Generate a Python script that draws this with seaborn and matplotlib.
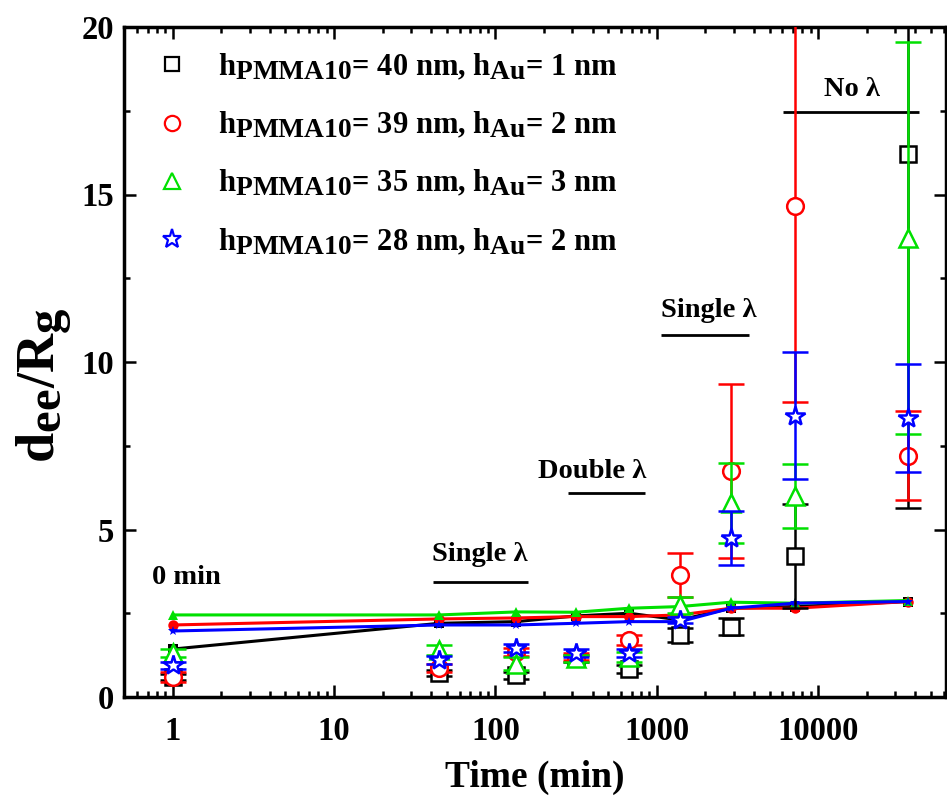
#!/usr/bin/python3
# -*- coding: utf-8 -*-

# --------------------------------------------------------------------
# d_ee/R_g versus annealing time for PMMA10 / Au films
# --------------------------------------------------------------------
import numpy as np
import pandas as pd

import seaborn as sns

import matplotlib
import matplotlib.pyplot as plt
from matplotlib.lines import Line2D
from matplotlib.ticker import LogLocator, MultipleLocator, NullFormatter, FixedLocator, FixedFormatter
import matplotlib._mathtext as mathtext_core

# Origin style subscripts are nearly full size
mathtext_core.SHRINK_FACTOR = 0.9

import warnings
warnings.filterwarnings("ignore")

sns.set_theme(style="ticks")
plt.rcParams["font.family"] = ["Liberation Serif", "DejaVu Serif"]
plt.rcParams["font.weight"] = "bold"
plt.rcParams["mathtext.fontset"] = "custom"
plt.rcParams["mathtext.rm"] = "Liberation Serif:bold"
plt.rcParams["mathtext.bf"] = "Liberation Serif:bold"
plt.rcParams["mathtext.it"] = "Liberation Serif:bold"
plt.rcParams["mathtext.default"] = "bf"
for key in ["text.color", "axes.labelcolor", "xtick.color", "ytick.color", "axes.edgecolor"]:
    plt.rcParams[key] = "black"


# --------------------------------------------------------------------
# data
# --------------------------------------------------------------------
time_min = [1, 45, 135, 315, 675, 1395, 2880, 7200, 36000]

sample_labels = [
    r"$h_{PMMA10}$= 40 nm, $h_{Au}$= 1 nm",
    r"$h_{PMMA10}$= 39 nm, $h_{Au}$= 2 nm",
    r"$h_{PMMA10}$= 35 nm, $h_{Au}$= 3 nm",
    r"$h_{PMMA10}$= 28 nm, $h_{Au}$= 2 nm",
]

# open symbols with error bars
dee_40_1 = [0.6, 0.72, 0.65, 1.15, 0.85, 1.85, 2.1, 4.2, 16.2]
err_40_1 = [0.1, 0.1, 0.1, 0.1, 0.12, 0.2, 0.25, 1.55, 10.55]
dee_39_2 = [0.6, 0.87, 1.35, 1.2, 1.7, 3.65, 6.75, 14.65, 7.2]
err_39_2 = [0.15, 0.12, 0.12, 0.1, 0.15, 0.65, 2.6, 5.85, 1.33]
dee_35_3 = [1.3, 1.4, 1.0, 1.15, 1.2, 2.75, 5.8, 6.0, 13.7]
err_35_3 = [0.12, 0.15, 0.2, 0.1, 0.15, 0.25, 1.2, 0.95, 5.85]
dee_28_2 = [0.95, 1.1, 1.45, 1.3, 1.3, 2.3, 4.75, 8.4, 8.33]
err_28_2 = [0.1, 0.12, 0.12, 0.12, 0.12, 0.1, 0.8, 1.9, 1.6]

# solid lines with small filled symbols
ref_40_1 = [1.43, 2.2, 2.25, 2.42, 2.5, 2.3, 2.65, 2.7, 2.85]
ref_39_2 = [2.15, 2.33, 2.36, 2.4, 2.4, 2.45, 2.65, 2.65, 2.85]
ref_35_3 = [2.45, 2.45, 2.54, 2.53, 2.65, 2.7, 2.83, 2.8, 2.88]
ref_28_2 = [1.97, 2.15, 2.15, 2.2, 2.25, 2.25, 2.65, 2.8, 2.85]

x_tick_values = [1, 10, 100, 1000, 10000]
x_tick_labels = ["1", "10", "100", "1000", "10000"]
y_tick_values = [0, 5, 10, 15, 20]

colors = ["#000000", "#ff0000", "#00e000", "#0000ff"]
markers = ["s", "o", "^", "*"]
marker_sizes = [11, 12, 13, 15]


def build_frames():
    """把各组数据整理成 DataFrame"""
    dee = [dee_40_1, dee_39_2, dee_35_3, dee_28_2]
    err = [err_40_1, err_39_2, err_35_3, err_28_2]
    ref = [ref_40_1, ref_39_2, ref_35_3, ref_28_2]
    rows, line_rows = [], []
    for k, label in enumerate(sample_labels):
        for t, v, e, r in zip(time_min, dee[k], err[k], ref[k]):
            rows.append({"time": t, "ratio": v, "err": e, "sample": label})
            line_rows.append({"time": t, "ratio": r, "sample": label})
    return pd.DataFrame(rows), pd.DataFrame(line_rows)


def plot_dee_vs_time(dee_df, line_df, file_name):
    fig = plt.figure(figsize=(9.47, 7.96), dpi=100)
    ax = fig.add_axes([124 / 947, 99 / 796, 822 / 947, 670 / 796])

    # solid lines with small filled markers
    sns.lineplot(data=line_df, x="time", y="ratio", hue="sample", style="sample",
                 hue_order=sample_labels, style_order=sample_labels,
                 palette=colors, markers=markers, dashes=False, markersize=7.5,
                 markeredgewidth=0, linewidth=2.2, legend=False, ax=ax)

    # open markers with error bars
    for k, label in enumerate(sample_labels):
        sub = dee_df[dee_df["sample"] == label]
        ax.errorbar(sub["time"], sub["ratio"], yerr=sub["err"], fmt=markers[k],
                    color=colors[k], mfc="white", mec=colors[k], ms=marker_sizes[k],
                    mew=1.8, elinewidth=1.8, capsize=9.5, capthick=1.8, zorder=3 + k)

    ax.set_xscale("log")
    ax.set_xlim(0.5, 62000)
    ax.set_ylim(0, 20)

    ax.xaxis.set_major_locator(FixedLocator(x_tick_values))
    ax.xaxis.set_major_formatter(FixedFormatter(x_tick_labels))
    ax.xaxis.set_minor_locator(LogLocator(base=10, subs=np.arange(2, 10)))
    ax.xaxis.set_minor_formatter(NullFormatter())
    ax.yaxis.set_major_locator(FixedLocator(y_tick_values))
    ax.yaxis.set_minor_locator(MultipleLocator(2.5))

    ax.tick_params(which="both", direction="in", top=True, right=True, width=1.8)
    ax.tick_params(which="major", length=8.5)
    ax.tick_params(which="minor", length=4.5)
    ax.tick_params(axis="x", which="major", pad=14, labelsize=23.5)
    ax.tick_params(axis="y", which="major", pad=7, labelsize=23.5)
    for side in ax.spines.values():
        side.set_linewidth(2.5)
        side.set_color("black")

    ax.set_xlabel("Time (min)", fontsize=27, fontweight="bold", labelpad=9)
    ax.set_ylabel(r"$d_{ee}/R_g$", fontsize=39)
    ax.yaxis.set_label_coords(-0.062, 0.465)

    # regime annotations
    ax.text(0.75, 3.58, "0 min", fontsize=20.5, ha="left", va="center")
    ax.text(80, 4.24, "Single λ", fontsize=20.5, ha="center", va="center")
    ax.hlines(3.43, 41, 160, color="black", lw=2)
    ax.text(400, 6.72, "Double λ", fontsize=20.5, ha="center", va="center")
    ax.hlines(6.09, 280, 840, color="black", lw=2)
    ax.text(2090, 11.55, "Single λ", fontsize=20.5, ha="center", va="center")
    ax.hlines(10.8, 1060, 3720, color="black", lw=2)
    ax.text(16300, 18.12, "No λ", fontsize=20.5, ha="center", va="center")
    ax.hlines(17.46, 6050, 41900, color="black", lw=2)

    handles = [Line2D([], [], ls="none", marker=markers[k], ms=marker_sizes[k] - 1,
                      mfc="none", mec=colors[k], mew=1.6)
               for k in range(len(sample_labels))]
    ax.legend(handles, sample_labels, loc="upper left", frameon=False,
              bbox_to_anchor=((158 - 124) / 822, 1 - (52 - 27) / 670),
              borderaxespad=0, borderpad=0, handlelength=0.9, handletextpad=1.05,
              labelspacing=0.92, prop={"size": 22, "weight": "bold"})

    fig.savefig(file_name, dpi=100)


dee_df, line_df = build_frames()
plot_dee_vs_time(dee_df, line_df, "out.png")
